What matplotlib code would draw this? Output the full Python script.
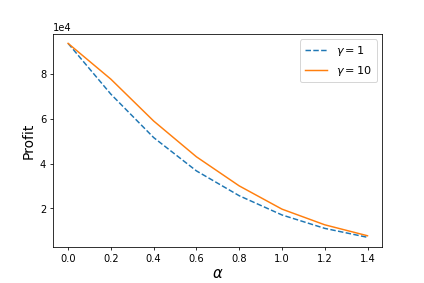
import numpy as np
import matplotlib.pyplot as plt

alpha = [0.0, 0.2, 0.4, 0.6, 0.8, 1.0, 1.2, 1.4]
profit_g1 = [93700, 71000, 51600, 36700, 25600, 17000, 11000, 7000]
profit_g10 = [93700, 77700, 59000, 43000, 30000, 19600, 12600, 7700]

fig = plt.figure(figsize=(6, 4), dpi=70.83)
fig.subplots_adjust(left=0.125, right=0.9, top=0.88, bottom=0.127)
ax = fig.add_subplot(111)
ax.plot(alpha, profit_g1, '--', label=r'$\gamma = 1$')
ax.plot(alpha, profit_g10, '-', label=r'$\gamma = 10$')
ax.set_xlabel(r'$\alpha$', fontsize=15, labelpad=2)
ax.set_ylabel('Profit', fontsize=14)
ax.ticklabel_format(axis='y', style='sci', scilimits=(0, 0))
ax.legend(fontsize=11.5)
fig.savefig('out.png')
